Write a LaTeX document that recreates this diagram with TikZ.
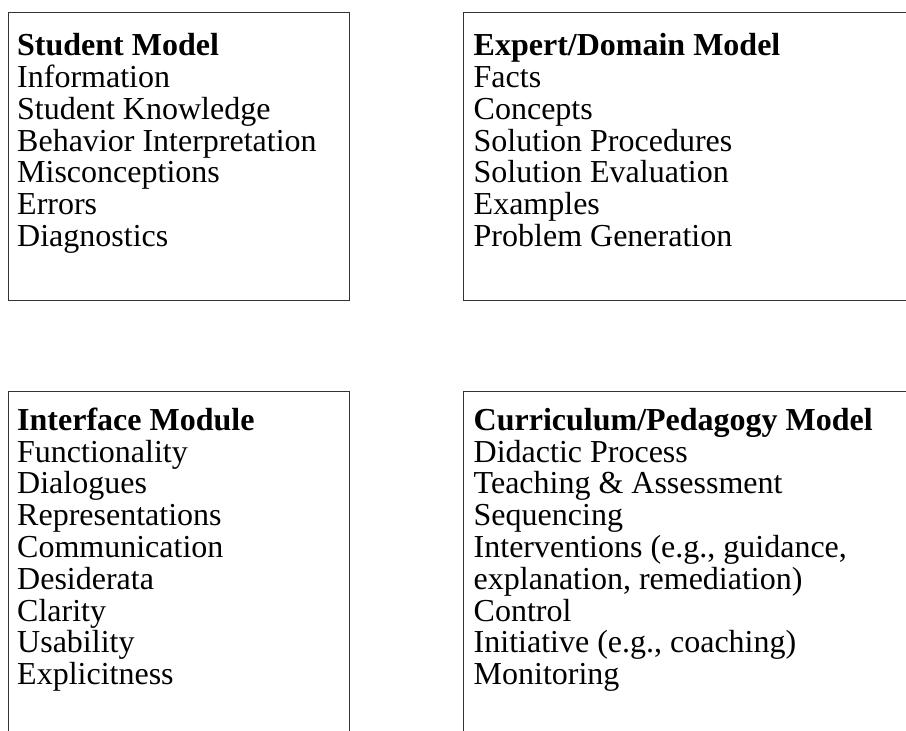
\documentclass[tikz,border=0pt]{standalone}
\usepackage{fontspec}
\setmainfont{Liberation Serif}
\begin{document}
\begin{tikzpicture}[x=1pt,y=-1pt,
  box/.style={draw=black!80, line width=1pt, fill=none, inner sep=0, anchor=north west},
  txt/.style={anchor=north west, inner sep=0, align=left, font=\fontsize{32}{31.8}\selectfont}]
\useasboundingbox (0,0) rectangle (906,731);
\clip (0,0) rectangle (906,731);
\fill[white] (0,0) rectangle (906,731);
% boxes
\node[box, minimum width=341.3pt, minimum height=287.7pt] (student) at (8,12.3) {};
\node[box, minimum width=500pt, minimum height=287.7pt] (expert) at (463.3,12.3) {};
\node[box, minimum width=341.3pt, minimum height=400pt] (interface) at (8,391) {};
\node[box, minimum width=500pt, minimum height=400pt] (curriculum) at (463.3,391) {};
% texts
\node[txt] (studenttxt) at (17,31.5) {\rule{0pt}{24pt}\textbf{Student Model}\\Information\\Student Knowledge\\Behavior Interpretation\\Misconceptions\\Errors\\Diagnostics};
\node[txt] (experttxt) at (473.5,31.5) {\rule{0pt}{24pt}\textbf{Expert/Domain Model}\\Facts\\Concepts\\Solution Procedures\\Solution Evaluation\\Examples\\Problem Generation};
\node[txt] (interfacetxt) at (17,406) {\rule{0pt}{24pt}\textbf{Interface Module}\\Functionality\\Dialogues\\Representations\\Communication\\Desiderata\\Clarity\\Usability\\Explicitness};
\node[txt] (curriculumtxt) at (473.5,406) {\rule{0pt}{24pt}\textbf{Curriculum/Pedagogy Model}\\Didactic Process\\Teaching \& Assessment\\Sequencing\\Interventions (e.g., guidance,\\explanation, remediation)\\Control\\Initiative (e.g., coaching)\\Monitoring};
\end{tikzpicture}
\end{document}
